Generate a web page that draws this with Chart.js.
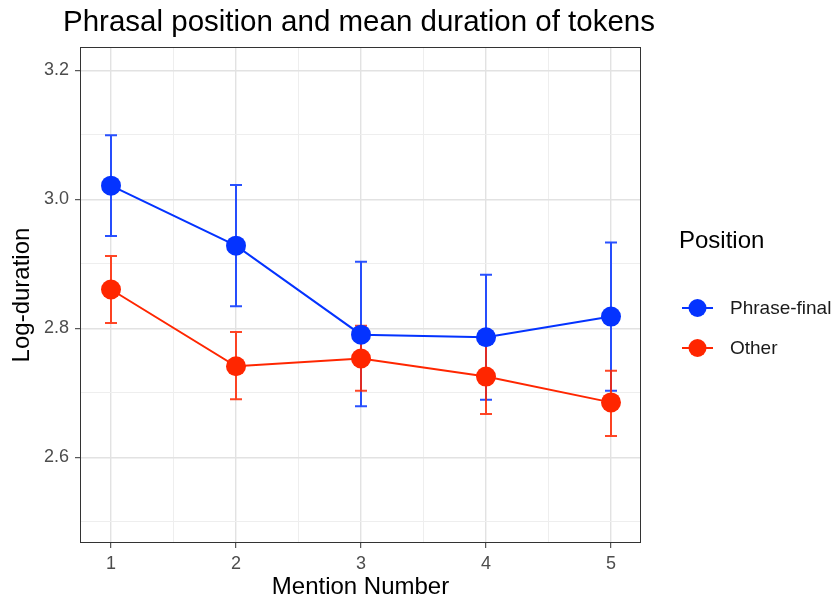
<!DOCTYPE html>
<html>
<head>
<meta charset="utf-8">
<script src="https://cdn.jsdelivr.net/npm/chart.js@4/dist/chart.umd.min.js"></script>
<style>
  html, body { margin: 0; padding: 0; background: #fff; }
  #wrap { width: 837px; height: 599px; }
</style>
</head>
<body>
<div id="wrap"><canvas id="chart" width="837" height="599"></canvas></div>
<script>
const mentions = [1, 2, 3, 4, 5];

const finalMean = [3.021, 2.928, 2.790, 2.786, 2.818];
const finalLow  = [2.943, 2.834, 2.679, 2.689, 2.703];
const finalHigh = [3.099, 3.022, 2.903, 2.883, 2.933];

const otherMean = [2.860, 2.741, 2.753, 2.725, 2.685];
const otherLow  = [2.808, 2.690, 2.703, 2.667, 2.633];
const otherHigh = [2.912, 2.794, 2.804, 2.783, 2.734];

const xMajor = [1, 2, 3, 4, 5];
const xMinor = [1.5, 2.5, 3.5, 4.5];
const yMajor = [2.6, 2.8, 3.0, 3.2];
const yMinor = [2.5, 2.7, 2.9, 3.1];

const BLUE = "#0433ff";
const RED = "#ff2600";
const FONT = "'Liberation Sans', Arial, sans-serif";

const isMajor = (list, v) => list.some(m => Math.abs(m - v) < 1e-9);

function toPoints(ys) {
  return mentions.map((x, i) => ({ x: x, y: ys[i] }));
}

const errorBars = {
  id: "errorBars",
  beforeDatasetsDraw(chart) {
    const ctx = chart.ctx;
    const xs = chart.scales.x, ys = chart.scales.y;
    chart.data.datasets.forEach(ds => {
      ctx.save();
      ctx.strokeStyle = ds.borderColor;
      ctx.globalAlpha = 0.85;
      ctx.lineWidth = 2;
      ds.errLow.forEach((lo, i) => {
        const px = xs.getPixelForValue(mentions[i]);
        const y1 = ys.getPixelForValue(lo);
        const y2 = ys.getPixelForValue(ds.errHigh[i]);
        ctx.beginPath();
        ctx.moveTo(px, y1); ctx.lineTo(px, y2);
        ctx.moveTo(px - 6, y1); ctx.lineTo(px + 6, y1);
        ctx.moveTo(px - 6, y2); ctx.lineTo(px + 6, y2);
        ctx.stroke();
      });
      ctx.restore();
    });
  }
};

const decorations = {
  id: "decorations",
  afterDraw(chart) {
    const ctx = chart.ctx;
    const a = chart.chartArea;
    ctx.save();
    // panel border
    ctx.strokeStyle = "#333333";
    ctx.lineWidth = 1;
    ctx.strokeRect(Math.round(a.left) + 0.5, Math.round(a.top) + 0.5,
      Math.round(a.right - a.left) - 1, Math.round(a.bottom - a.top) - 1);

    // title
    ctx.fillStyle = "#000";
    ctx.font = "29.5px " + FONT;
    ctx.textBaseline = "alphabetic";
    ctx.textAlign = "left";
    ctx.fillText("Phrasal position and mean duration of tokens", 63, 31);

    // legend
    ctx.font = "24px " + FONT;
    ctx.fillText("Position", 679, 248);
    ctx.font = "19px " + FONT;
    ctx.textBaseline = "middle";
    chart.data.datasets.forEach((ds, i) => {
      const cy = 308 + i * 40;
      ctx.strokeStyle = ds.borderColor;
      ctx.lineWidth = 2;
      ctx.beginPath();
      ctx.moveTo(682, cy); ctx.lineTo(713, cy);
      ctx.stroke();
      ctx.fillStyle = ds.borderColor;
      ctx.beginPath();
      ctx.arc(697.5, cy, 9, 0, Math.PI * 2);
      ctx.fill();
      ctx.fillStyle = "#1a1a1a";
      ctx.fillText(ds.label, 730, cy + 1);
    });
    ctx.restore();
  }
};

function gridColor(list) {
  return c => (c.tick && isMajor(list, c.tick.value)) ? "#e2e2e2" : "#eeeeee";
}
function gridWidth(list) {
  return c => (c.tick && isMajor(list, c.tick.value)) ? 1.4 : 1;
}
function tickColor(list) {
  return c => (c.tick && isMajor(list, c.tick.value)) ? "#333333" : "rgba(0,0,0,0)";
}

new Chart(document.getElementById("chart"), {
  type: "line",
  data: {
    datasets: [
      {
        label: "Phrase-final",
        data: toPoints(finalMean),
        errLow: finalLow,
        errHigh: finalHigh,
        borderColor: BLUE,
        backgroundColor: BLUE,
        borderWidth: 2,
        pointRadius: 10,
        pointHoverRadius: 10,
        pointBorderWidth: 0,
        tension: 0
      },
      {
        label: "Other",
        data: toPoints(otherMean),
        errLow: otherLow,
        errHigh: otherHigh,
        borderColor: RED,
        backgroundColor: RED,
        borderWidth: 2,
        pointRadius: 10,
        pointHoverRadius: 10,
        pointBorderWidth: 0,
        tension: 0
      }
    ]
  },
  options: {
    responsive: false,
    animation: false,
    layout: { padding: { left: 0, right: 196, top: 47, bottom: 0 } },
    plugins: {
      legend: { display: false },
      tooltip: { enabled: false },
      title: { display: false }
    },
    scales: {
      x: {
        type: "linear",
        min: 0.752,
        max: 5.24,
        afterBuildTicks: s => { s.ticks = [...xMajor, ...xMinor].sort((a, b) => a - b).map(v => ({ value: v })); },
        afterFit: s => { s.height = 56; },
        border: { display: false },
        grid: {
          color: gridColor(xMajor),
          lineWidth: gridWidth(xMajor),
          tickColor: tickColor(xMajor),
          tickLength: 5,
          tickWidth: 1
        },
        ticks: {
          autoSkip: false,
          maxRotation: 0,
          padding: 5,
          color: "#4d4d4d",
          font: { family: FONT, size: 18 },
          callback: v => isMajor(xMajor, v) ? String(v) : ""
        },
        title: {
          display: true,
          text: "Mention Number",
          color: "#000",
          font: { family: FONT, size: 24, lineHeight: 1 },
          padding: { top: -1, bottom: 0 }
        }
      },
      y: {
        type: "linear",
        min: 2.467,
        max: 3.236,
        afterBuildTicks: s => { s.ticks = [...yMajor, ...yMinor].sort((a, b) => a - b).map(v => ({ value: v })); },
        afterFit: s => { s.width = 80; },
        border: { display: false },
        grid: {
          color: gridColor(yMajor),
          lineWidth: gridWidth(yMajor),
          tickColor: tickColor(yMajor),
          tickLength: 5,
          tickWidth: 1
        },
        ticks: {
          autoSkip: false,
          padding: 6,
          color: "#4d4d4d",
          font: { family: FONT, size: 18 },
          callback: v => isMajor(yMajor, v) ? v.toFixed(1) : ""
        },
        title: {
          display: true,
          text: "Log-duration",
          color: "#000",
          font: { family: FONT, size: 24, lineHeight: 1 },
          padding: { top: 10, bottom: 0 }
        }
      }
    }
  },
  plugins: [errorBars, decorations]
});
</script>
</body>
</html>
